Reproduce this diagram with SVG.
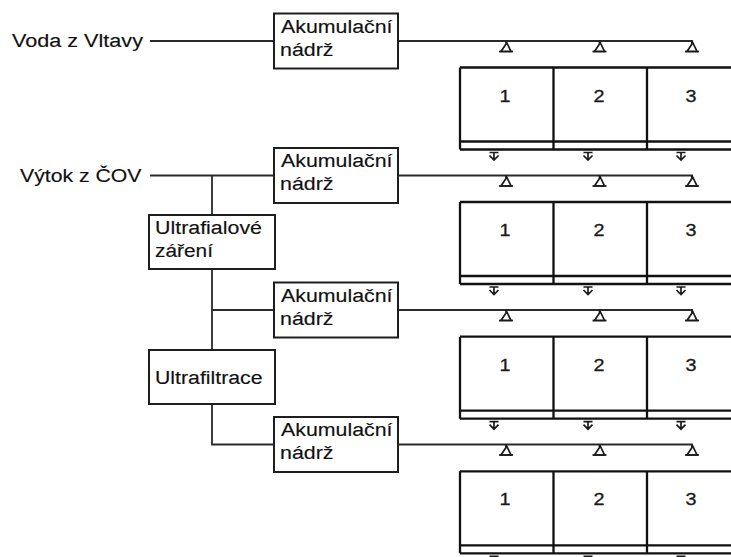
<svg xmlns="http://www.w3.org/2000/svg" xmlns:xlink="http://www.w3.org/1999/xlink" width="731" height="557" viewBox="0 0 731 557">
<style>
.bx{fill:#fff;stroke:#1e1e1e;stroke-width:2}
.ln{fill:none;stroke:#2a2a2a;stroke-width:1.8}
.tk{fill:none;stroke:#111;stroke-width:2.3}
.t{font-family:"Liberation Sans",Arial,sans-serif;font-size:18px;fill:#111;stroke:#111;stroke-width:0.15}
.n{font-family:"Liberation Sans",Arial,sans-serif;font-size:16.5px;fill:#1a1a1a;stroke:#1a1a1a;stroke-width:0.3}
</style>
<defs>
<g id="spr">
<path d="M0,0 V3 L-5,10.5 H5 Z" fill="none" stroke="#1a1a1a" stroke-width="1.7" stroke-linejoin="miter"/>
<path d="M-7,10.5 H7" stroke="#1a1a1a" stroke-width="1.7"/>
</g>
<g id="drn">
<path d="M-4.5,3 H4.5 M0,3 V10.5 M-4.5,6 L0,10.5 L4.5,6" fill="none" stroke="#1a1a1a" stroke-width="1.7"/>
</g>
<g id="tank">
<path d="M460,0 H731 M460,0 V82 M553.5,0 V82 M647,0 V82 M460,74 H731 M460,82 H731" class="tk"/>
<use xlink:href="#drn" x="494" y="82"/>
<use xlink:href="#drn" x="588" y="82"/>
<use xlink:href="#drn" x="681" y="82"/>
</g>
</defs>

<g id="connectors">
<path class="ln" d="M150,41 H274"/>
<path class="ln" d="M150,175.5 H274"/>
<path class="ln" d="M212,175.5 V215"/>
<path class="ln" d="M212,269 V350"/>
<path class="ln" d="M212,310 H274"/>
<path class="ln" d="M212,404 V444.5 H274"/>
<path class="ln" d="M398,41 H692 V44"/>
<path class="ln" d="M398,175.5 H692 V178.5"/>
<path class="ln" d="M398,310 H692 V313"/>
<path class="ln" d="M398,444.5 H692 V447.5"/>
</g>

<g id="sprinklers">
<use xlink:href="#spr" x="506" y="41"/><use xlink:href="#spr" x="599.5" y="41"/><use xlink:href="#spr" x="692" y="41"/>
<use xlink:href="#spr" x="506" y="175.5"/><use xlink:href="#spr" x="599.5" y="175.5"/><use xlink:href="#spr" x="692" y="175.5"/>
<use xlink:href="#spr" x="506" y="310"/><use xlink:href="#spr" x="599.5" y="310"/><use xlink:href="#spr" x="692" y="310"/>
<use xlink:href="#spr" x="506" y="444.5"/><use xlink:href="#spr" x="599.5" y="444.5"/><use xlink:href="#spr" x="692" y="444.5"/>
</g>

<g id="source-vltava"><text class="t" x="12" y="46.5" textLength="131" lengthAdjust="spacingAndGlyphs">Voda z Vltavy</text></g>
<g id="source-cov"><text class="t" x="20" y="182" textLength="121.5" lengthAdjust="spacingAndGlyphs">Výtok z ČOV</text></g>

<g id="tank-box-1"><rect class="bx" x="274" y="13.5" width="124" height="55"/>
<text class="t" x="281" y="32.5" textLength="111.5" lengthAdjust="spacingAndGlyphs">Akumulační</text>
<text class="t" x="280" y="55.5" textLength="53.5" lengthAdjust="spacingAndGlyphs">nádrž</text></g>
<g id="tank-box-2"><rect class="bx" x="274" y="148" width="124" height="55"/>
<text class="t" x="281" y="167" textLength="111.5" lengthAdjust="spacingAndGlyphs">Akumulační</text>
<text class="t" x="280" y="190" textLength="53.5" lengthAdjust="spacingAndGlyphs">nádrž</text></g>
<g id="tank-box-3"><rect class="bx" x="274" y="282.5" width="124" height="55"/>
<text class="t" x="281" y="301.5" textLength="111.5" lengthAdjust="spacingAndGlyphs">Akumulační</text>
<text class="t" x="280" y="324.5" textLength="53.5" lengthAdjust="spacingAndGlyphs">nádrž</text></g>
<g id="tank-box-4"><rect class="bx" x="274" y="417" width="124" height="55"/>
<text class="t" x="281" y="436" textLength="111.5" lengthAdjust="spacingAndGlyphs">Akumulační</text>
<text class="t" x="280" y="459" textLength="53.5" lengthAdjust="spacingAndGlyphs">nádrž</text></g>

<g id="uv"><rect class="bx" x="149" y="215" width="126" height="54"/>
<text class="t" x="155" y="233.5" textLength="107" lengthAdjust="spacingAndGlyphs">Ultrafialové</text>
<text class="t" x="155" y="256.5" textLength="58" lengthAdjust="spacingAndGlyphs">záření</text></g>
<g id="uf"><rect class="bx" x="149" y="350" width="126" height="54"/>
<text class="t" x="155" y="384" textLength="107.5" lengthAdjust="spacingAndGlyphs">Ultrafiltrace</text></g>

<g id="beds-1"><use xlink:href="#tank" y="67.5"/>
<text class="n" x="499.5" y="101.5" textLength="11" lengthAdjust="spacingAndGlyphs">1</text>
<text class="n" x="593.5" y="101.5" textLength="11" lengthAdjust="spacingAndGlyphs">2</text>
<text class="n" x="685.5" y="101.5" textLength="11" lengthAdjust="spacingAndGlyphs">3</text></g>
<g id="beds-2"><use xlink:href="#tank" y="202"/>
<text class="n" x="499.5" y="236" textLength="11" lengthAdjust="spacingAndGlyphs">1</text>
<text class="n" x="593.5" y="236" textLength="11" lengthAdjust="spacingAndGlyphs">2</text>
<text class="n" x="685.5" y="236" textLength="11" lengthAdjust="spacingAndGlyphs">3</text></g>
<g id="beds-3"><use xlink:href="#tank" y="336.7"/>
<text class="n" x="499.5" y="370.7" textLength="11" lengthAdjust="spacingAndGlyphs">1</text>
<text class="n" x="593.5" y="370.7" textLength="11" lengthAdjust="spacingAndGlyphs">2</text>
<text class="n" x="685.5" y="370.7" textLength="11" lengthAdjust="spacingAndGlyphs">3</text></g>
<g id="beds-4"><use xlink:href="#tank" y="471.3"/>
<text class="n" x="499.5" y="505.3" textLength="11" lengthAdjust="spacingAndGlyphs">1</text>
<text class="n" x="593.5" y="505.3" textLength="11" lengthAdjust="spacingAndGlyphs">2</text>
<text class="n" x="685.5" y="505.3" textLength="11" lengthAdjust="spacingAndGlyphs">3</text></g>
</svg>
